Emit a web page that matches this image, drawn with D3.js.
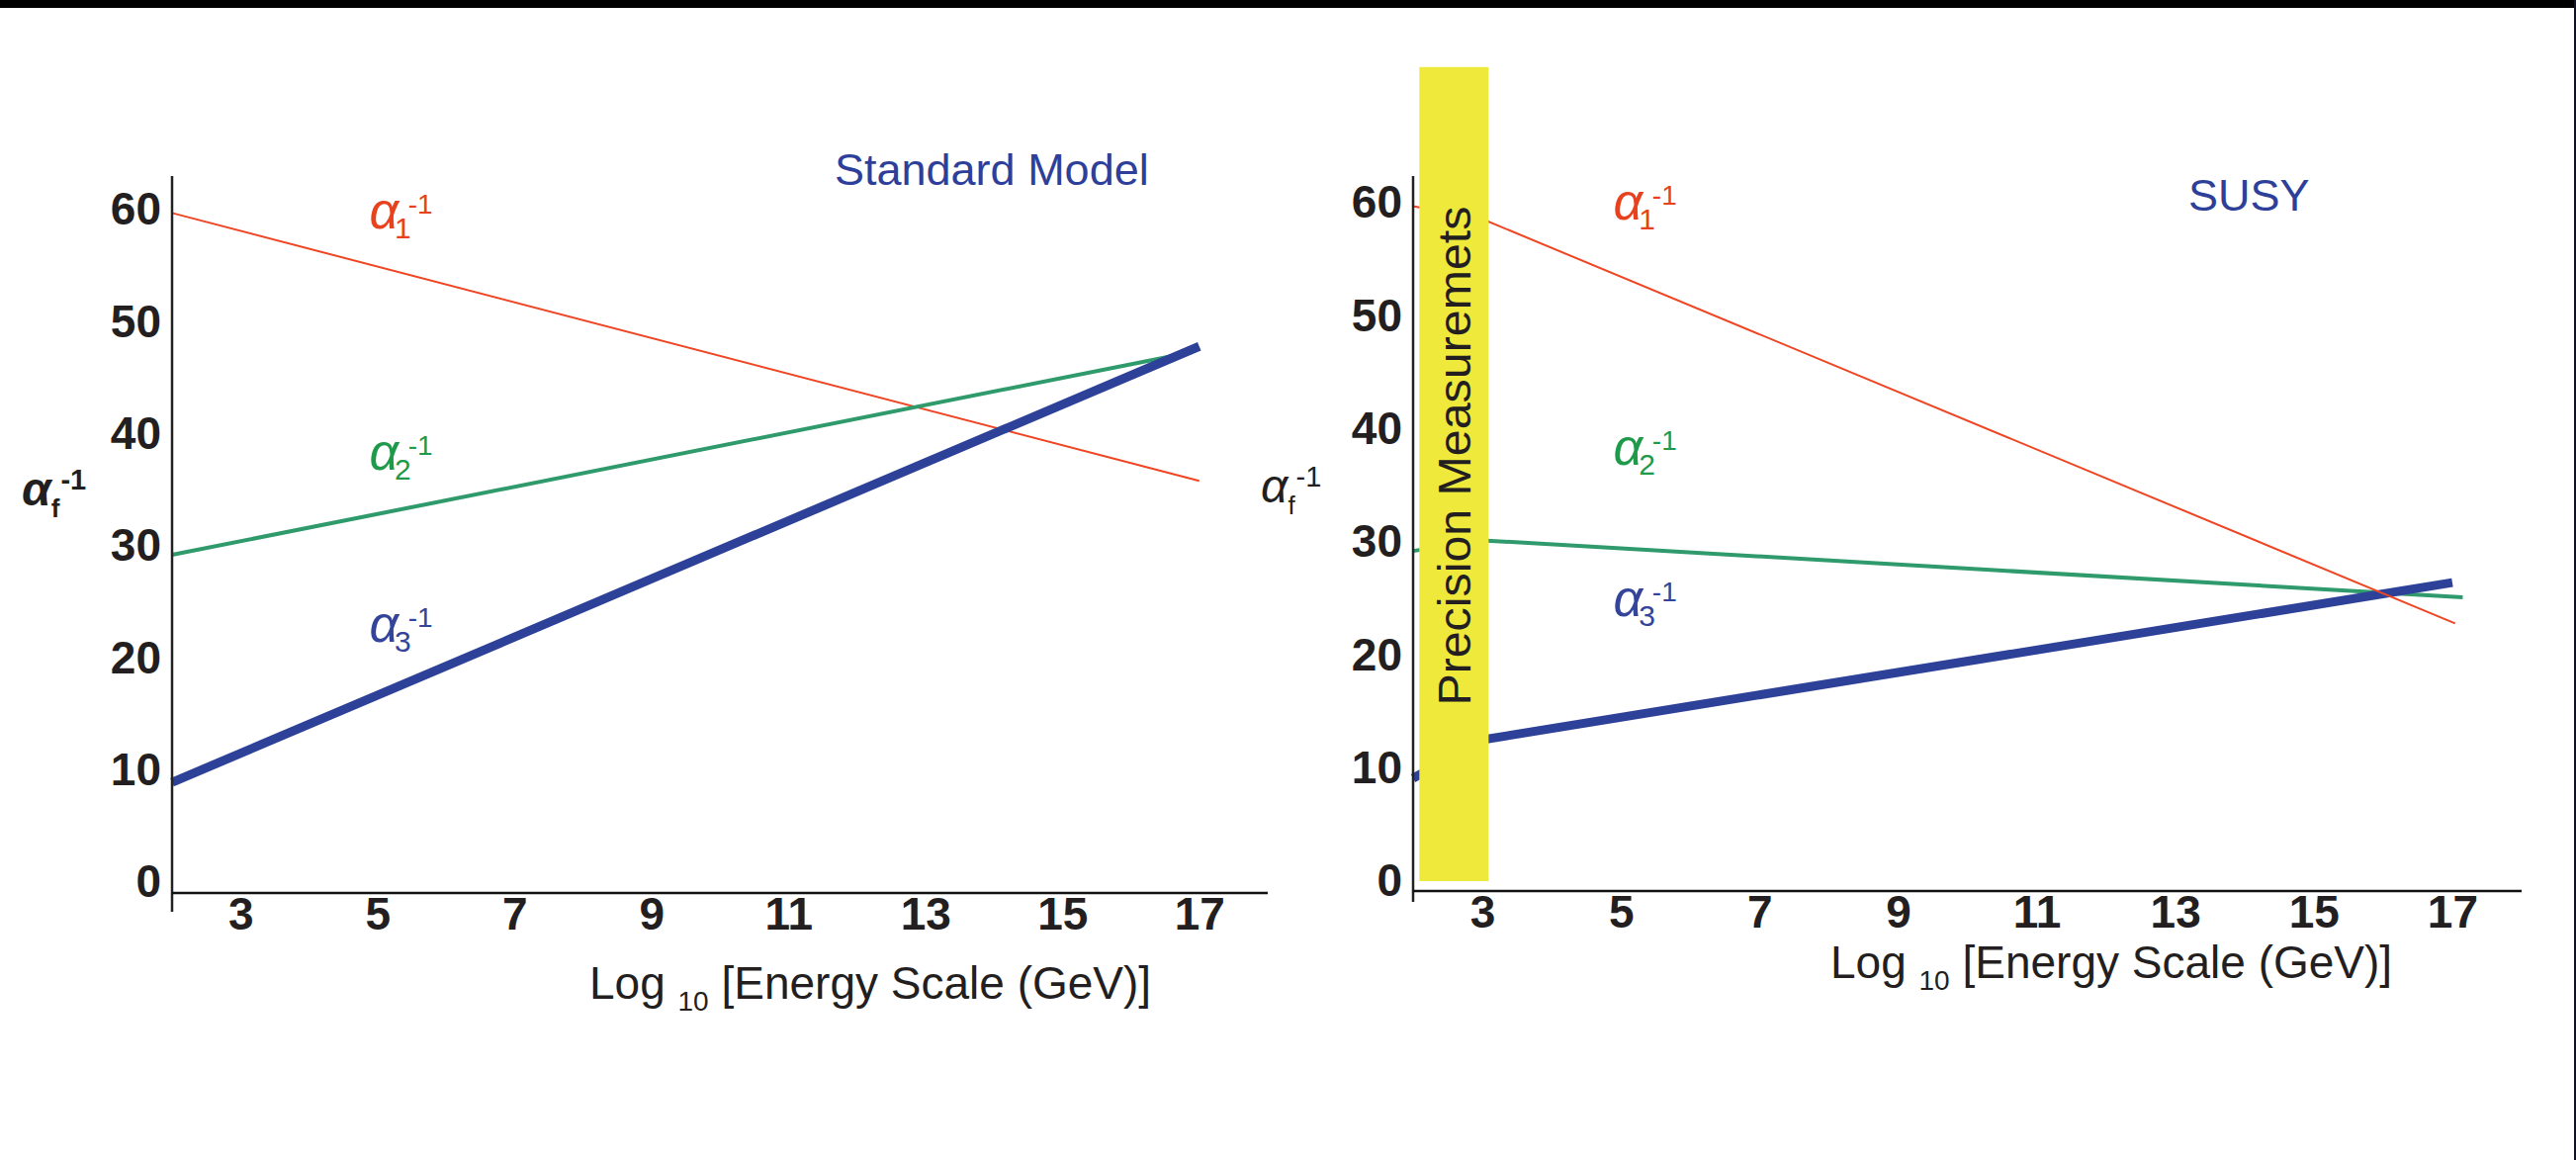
<!DOCTYPE html>
<html>
<head>
<meta charset="utf-8">
<script src="https://cdn.jsdelivr.net/npm/d3@7"></script>
<style>
  html, body { margin: 0; padding: 0; background: #fff; }
  svg { display: block; }
</style>
</head>
<body>
<svg id="chart" width="2605" height="1173"></svg>
<script>
// Running of the inverse gauge couplings vs. log10 of the energy scale (GeV)
const xTicks = [3, 5, 7, 9, 11, 13, 15, 17];
const yTicks = [0, 10, 20, 30, 40, 50, 60];
const xDomain = [2, 18];
const yDomain = [0, 60];

// Standard Model: [log10 E, alpha^-1]
const smAlpha1 = [[2, 59.7], [17, 35.8]];
const smAlpha2 = [[2, 29.2], [16.9, 47.3]];
const smAlpha3 = [[2, 8.9], [17, 47.8]];

// Supersymmetric extension
const susyAlpha1 = [[2, 59.7], [3.0, 58.55], [17.04, 22.8]];
const susyAlpha2 = [[2, 29.2], [3.0, 30.14], [17.15, 25.1]];
const susyAlpha3 = [[2, 9.1], [3.0, 12.5], [17.0, 26.4]];

// Region covered by precision measurements
const precisionX = [2.09, 3.09];
const precisionY = [0, 72];

const seriesNames = ["1", "2", "3"];
const lineColors = ["#ef4523", "#2f9a6b", "#2e4199"];
const labelColors = ["#e8411d", "#1f9a4a", "#33449a"];
const lineWidths = [2, 4, 9];

const panels = [
  {
    title: "Standard Model",
    series: [smAlpha1, smAlpha2, smAlpha3],
    labelAt: [[4.88, 58.3], [4.88, 36.8], [4.88, 21.4]],
    xRange: [174, 1282], yRange: [892, 212],
    yAxisSpan: [178, 922], xAxisY: 903,
    titlePos: [844, 187],
    xTitlePos: [596, 1010],
    yTitlePos: [22, 511], yTitleBold: true,
    band: false
  },
  {
    title: "SUSY",
    series: [susyAlpha1, susyAlpha2, susyAlpha3],
    labelAt: [[4.89, 58.5], [4.89, 36.8], [4.89, 23.4]],
    xRange: [1429, 2550], yRange: [891, 205],
    yAxisSpan: [178, 912], xAxisY: 901,
    titlePos: [2213, 213],
    xTitlePos: [1851, 989],
    yTitlePos: [1275, 508], yTitleBold: false,
    band: true
  }
];

const svg = d3.select("#chart");
const SANS = "'Liberation Sans', Arial, Helvetica, sans-serif";
const INK = "#231f20";

svg.append("rect").attr("width", 2605).attr("height", 1173).attr("fill", "#fff");

panels.forEach(p => {
  const x = d3.scaleLinear().domain(xDomain).range(p.xRange);
  const y = d3.scaleLinear().domain(yDomain).range(p.yRange);
  const g = svg.append("g");

  // coupling lines
  const line = d3.line().x(d => x(d[0])).y(d => y(d[1]));
  const order = p.band ? [1, 2, 0] : [0, 1, 2];
  order.forEach(i => {
    g.append("path")
      .datum(p.series[i])
      .attr("d", line)
      .attr("fill", "none")
      .attr("stroke", lineColors[i])
      .attr("stroke-width", lineWidths[i]);
  });

  // precision-measurement band over the low-energy part of the lines
  if (p.band) {
    const bx0 = x(precisionX[0]), bx1 = x(precisionX[1]);
    g.append("rect")
      .attr("x", bx0)
      .attr("width", bx1 - bx0)
      .attr("y", y(precisionY[1]))
      .attr("height", y(precisionY[0]) - y(precisionY[1]))
      .attr("fill", "#efe93b");
    g.append("text")
      .attr("transform", `translate(${bx1 - 18},${y(37.6)}) rotate(-90)`)
      .attr("text-anchor", "middle")
      .attr("font-family", SANS)
      .attr("font-size", 47)
      .attr("textLength", 505)
      .attr("lengthAdjust", "spacingAndGlyphs")
      .attr("fill", INK)
      .text("Precision Measuremets");
  }

  // axis lines
  g.append("line")
    .attr("x1", p.xRange[0]).attr("x2", p.xRange[0])
    .attr("y1", p.yAxisSpan[0]).attr("y2", p.yAxisSpan[1])
    .attr("stroke", "#222").attr("stroke-width", 2.5);
  g.append("line")
    .attr("x1", p.xRange[0]).attr("x2", p.xRange[1])
    .attr("y1", p.xAxisY).attr("y2", p.xAxisY)
    .attr("stroke", "#111").attr("stroke-width", 2.5);

  // tick labels
  const yAxis = d3.axisLeft(y).tickValues(yTicks).tickSize(0).tickPadding(11);
  const ya = g.append("g").attr("transform", `translate(${p.xRange[0]},0)`).call(yAxis);
  ya.select(".domain").remove();
  ya.selectAll("text")
    .attr("font-family", SANS).attr("font-weight", "bold")
    .attr("font-size", 46).attr("fill", INK);

  const xAxis = d3.axisBottom(x).tickValues(xTicks).tickSize(0).tickPadding(4);
  const xa = g.append("g").attr("transform", `translate(0,${p.xAxisY})`).call(xAxis);
  xa.select(".domain").remove();
  xa.selectAll("text")
    .attr("font-family", SANS).attr("font-weight", "bold")
    .attr("font-size", 46).attr("fill", INK);

  // x-axis title
  const xt = g.append("text")
    .attr("x", p.xTitlePos[0]).attr("y", p.xTitlePos[1])
    .attr("font-family", SANS).attr("font-size", 46).attr("fill", INK);
  xt.append("tspan").text("Log ");
  xt.append("tspan").attr("font-size", 28).attr("dy", 12).text("10");
  xt.append("tspan").attr("dy", -12).text(" [Energy Scale (GeV)]");

  // y-axis title
  const yt = g.append("text")
    .attr("x", p.yTitlePos[0]).attr("y", p.yTitlePos[1])
    .attr("font-family", SANS)
    .attr("font-weight", p.yTitleBold ? "bold" : "normal")
    .attr("font-size", 48).attr("fill", INK);
  yt.append("tspan").attr("font-style", "italic").text("α");
  yt.append("tspan").attr("font-size", 26).attr("dx", 0).attr("dy", 12).text("f");
  yt.append("tspan").attr("font-size", 29).attr("dx", 1).attr("dy", -28).text("-1");

  // panel title
  g.append("text")
    .attr("x", p.titlePos[0]).attr("y", p.titlePos[1])
    .attr("font-family", SANS).attr("font-size", 45)
    .attr("fill", "#2e3f9a")
    .text(p.title);

  // series labels alpha_i^-1
  p.labelAt.forEach((pos, i) => {
    const t = g.append("text")
      .attr("x", x(pos[0])).attr("y", y(pos[1]))
      .attr("font-family", SANS).attr("font-size", 52)
      .attr("fill", labelColors[i]);
    t.append("tspan").attr("font-style", "italic").text("α");
    t.append("tspan").attr("font-size", 30).attr("dx", -4).attr("dy", 10).text(seriesNames[i]);
    t.append("tspan").attr("font-size", 28).attr("dx", -3).attr("dy", -25).text("-1");
  });
});

// frame edges
svg.append("rect").attr("x", 0).attr("y", 0).attr("width", 2605).attr("height", 8).attr("fill", "#000");
svg.append("rect").attr("x", 2603).attr("y", 0).attr("width", 2).attr("height", 1173).attr("fill", "#101030");
</script>
</body>
</html>
